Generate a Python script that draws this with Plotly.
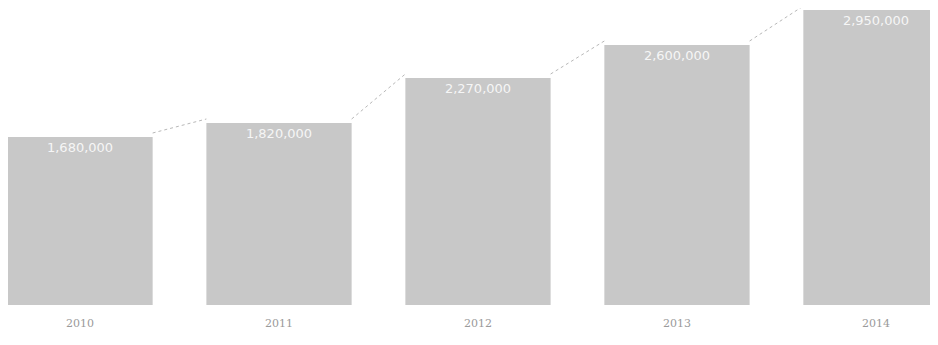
import plotly.graph_objects as go

years = ["2010", "2011", "2012", "2013", "2014"]
values = [1680, 1820, 2270, 2600, 2950]
labels = ["1,680,000", "1,820,000", "2,270,000", "2,600,000", "2,950,000"]

bar_width = 0.73
xs = list(range(len(years)))

# dotted trend segments between bars (from right edge of one bar to left edge of next)
lx, ly = [], []
for i in range(len(values) - 1):
    lx += [xs[i] + bar_width / 2, xs[i + 1] - bar_width / 2, None]
    ly += [values[i] + 40, values[i + 1] + 40, None]

fig = go.Figure()
fig.add_trace(go.Bar(
    x=xs, y=values, width=bar_width,
    marker=dict(color="#c8c8c8", line=dict(width=0)),
    text=labels, textposition="inside", insidetextanchor="end",
    textfont=dict(color="#f6f6f6", size=13, family="DejaVu Sans"),
    textangle=0,
))
fig.add_trace(go.Scatter(
    x=lx, y=ly, mode="lines",
    line=dict(color="#b8b8b8", width=1, dash="dot"),
    hoverinfo="skip",
))

fig.update_layout(
    width=938, height=345,
    margin=dict(l=0, r=0, t=0, b=48),
    paper_bgcolor="white", plot_bgcolor="white",
    showlegend=False,
    xaxis=dict(range=[-0.362, 4.352], tickmode="array", tickvals=xs, ticktext=years,
               showgrid=False, zeroline=False, showline=False, ticks="",
               ticklabelstandoff=10,
               tickfont=dict(color="#9a9a9a", size=11, family="DejaVu Serif")),
    yaxis=dict(range=[0, 2970], visible=False, showgrid=False, zeroline=False),
    uniformtext=dict(minsize=8, mode="show"),
)
fig.write_html("out.html")
